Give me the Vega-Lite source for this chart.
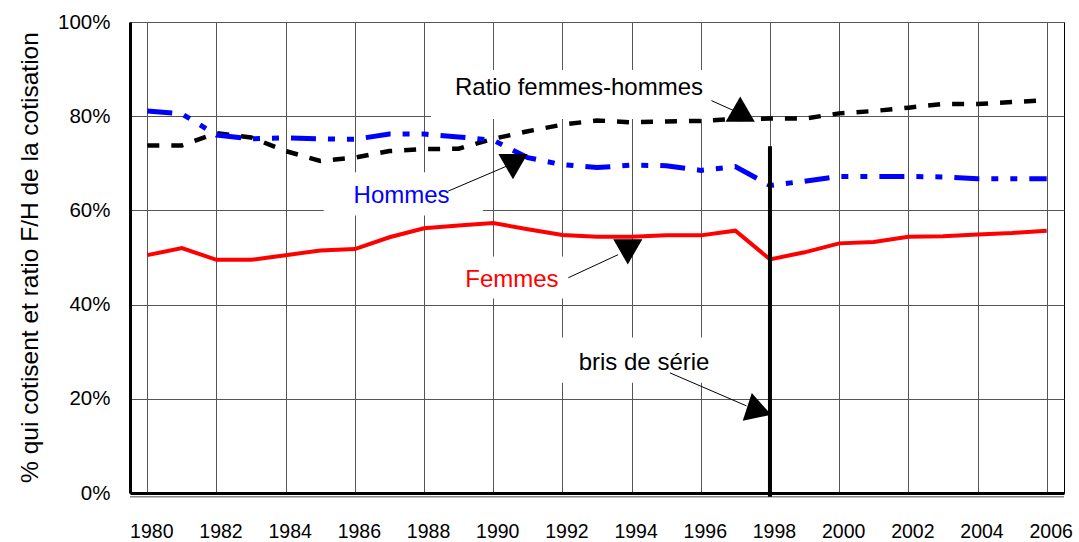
{
  "$schema": "https://vega.github.io/schema/vega-lite/v6.json",
  "width": 934,
  "height": 471,
  "autosize": "none",
  "padding": {"left": 130, "top": 22, "right": 15, "bottom": 49},
  "background": "#ffffff",
  "config": {
    "view": {"stroke": "#000000", "strokeWidth": 1},
    "font": "Liberation Sans, Arial, sans-serif"
  },
  "datasets": {
    "series": [
      {"series": "Femmes", "year": 1980, "value": 50.5},
      {"series": "Femmes", "year": 1981, "value": 52.0},
      {"series": "Femmes", "year": 1982, "value": 49.5},
      {"series": "Femmes", "year": 1983, "value": 49.5},
      {"series": "Femmes", "year": 1984, "value": 50.5},
      {"series": "Femmes", "year": 1985, "value": 51.5},
      {"series": "Femmes", "year": 1986, "value": 51.8},
      {"series": "Femmes", "year": 1987, "value": 54.3},
      {"series": "Femmes", "year": 1988, "value": 56.2},
      {"series": "Femmes", "year": 1989, "value": 56.8},
      {"series": "Femmes", "year": 1990, "value": 57.3},
      {"series": "Femmes", "year": 1991, "value": 56.0},
      {"series": "Femmes", "year": 1992, "value": 54.8},
      {"series": "Femmes", "year": 1993, "value": 54.4},
      {"series": "Femmes", "year": 1994, "value": 54.4},
      {"series": "Femmes", "year": 1995, "value": 54.7},
      {"series": "Femmes", "year": 1996, "value": 54.7},
      {"series": "Femmes", "year": 1997, "value": 55.7},
      {"series": "Femmes", "year": 1998, "value": 49.6},
      {"series": "Femmes", "year": 1999, "value": 51.1},
      {"series": "Femmes", "year": 2000, "value": 53.0},
      {"series": "Femmes", "year": 2001, "value": 53.3},
      {"series": "Femmes", "year": 2002, "value": 54.4},
      {"series": "Femmes", "year": 2003, "value": 54.5},
      {"series": "Femmes", "year": 2004, "value": 54.9},
      {"series": "Femmes", "year": 2005, "value": 55.2},
      {"series": "Femmes", "year": 2006, "value": 55.7},
      {"series": "Hommes", "year": 1980, "value": 81.1},
      {"series": "Hommes", "year": 1981, "value": 80.5},
      {"series": "Hommes", "year": 1982, "value": 76.0},
      {"series": "Hommes", "year": 1983, "value": 75.2},
      {"series": "Hommes", "year": 1984, "value": 75.4},
      {"series": "Hommes", "year": 1985, "value": 75.2},
      {"series": "Hommes", "year": 1986, "value": 75.1},
      {"series": "Hommes", "year": 1987, "value": 76.2},
      {"series": "Hommes", "year": 1988, "value": 76.2},
      {"series": "Hommes", "year": 1989, "value": 75.6},
      {"series": "Hommes", "year": 1990, "value": 74.9},
      {"series": "Hommes", "year": 1991, "value": 71.2},
      {"series": "Hommes", "year": 1992, "value": 69.7},
      {"series": "Hommes", "year": 1993, "value": 69.1},
      {"series": "Hommes", "year": 1994, "value": 69.6},
      {"series": "Hommes", "year": 1995, "value": 69.5},
      {"series": "Hommes", "year": 1996, "value": 68.5},
      {"series": "Hommes", "year": 1997, "value": 69.3},
      {"series": "Hommes", "year": 1998, "value": 65.3},
      {"series": "Hommes", "year": 1999, "value": 66.2},
      {"series": "Hommes", "year": 2000, "value": 67.2},
      {"series": "Hommes", "year": 2001, "value": 67.2},
      {"series": "Hommes", "year": 2002, "value": 67.2},
      {"series": "Hommes", "year": 2003, "value": 67.1},
      {"series": "Hommes", "year": 2004, "value": 66.7},
      {"series": "Hommes", "year": 2005, "value": 66.7},
      {"series": "Hommes", "year": 2006, "value": 66.7},
      {"series": "Ratio", "year": 1980, "value": 73.8},
      {"series": "Ratio", "year": 1981, "value": 73.8},
      {"series": "Ratio", "year": 1982, "value": 76.4},
      {"series": "Ratio", "year": 1983, "value": 75.5},
      {"series": "Ratio", "year": 1984, "value": 72.6},
      {"series": "Ratio", "year": 1985, "value": 70.5},
      {"series": "Ratio", "year": 1986, "value": 71.2},
      {"series": "Ratio", "year": 1987, "value": 72.6},
      {"series": "Ratio", "year": 1988, "value": 73.0},
      {"series": "Ratio", "year": 1989, "value": 73.1},
      {"series": "Ratio", "year": 1990, "value": 75.2},
      {"series": "Ratio", "year": 1991, "value": 76.8},
      {"series": "Ratio", "year": 1992, "value": 78.2},
      {"series": "Ratio", "year": 1993, "value": 79.1},
      {"series": "Ratio", "year": 1994, "value": 78.7},
      {"series": "Ratio", "year": 1995, "value": 78.9},
      {"series": "Ratio", "year": 1996, "value": 79.0},
      {"series": "Ratio", "year": 1997, "value": 79.4},
      {"series": "Ratio", "year": 1998, "value": 79.5},
      {"series": "Ratio", "year": 1999, "value": 79.5},
      {"series": "Ratio", "year": 2000, "value": 80.6},
      {"series": "Ratio", "year": 2001, "value": 81.1},
      {"series": "Ratio", "year": 2002, "value": 81.8},
      {"series": "Ratio", "year": 2003, "value": 82.6},
      {"series": "Ratio", "year": 2004, "value": 82.6},
      {"series": "Ratio", "year": 2005, "value": 83.0},
      {"series": "Ratio", "year": 2006, "value": 83.4}
    ],
    "boxes": [
      {"name": "Ratio", "year": 1988.2, "year2": 1997.27, "value": 79.4, "value2": 89.8},
      {"name": "Hommes", "year": 1985.1, "year2": 1989.7, "value": 58.9, "value2": 68.1},
      {"name": "Femmes", "year": 1988.9, "year2": 1992.36, "value": 41.3, "value2": 50.2},
      {"name": "Bris", "year": 1991.49, "year2": 1996.55, "value": 23.4, "value2": 33.0}
    ],
    "labels": [
      {"name": "Ratio", "text": "Ratio femmes-hommes", "year": 1992.48, "value": 85.9},
      {"name": "Hommes", "text": "Hommes", "year": 1987.35, "value": 63.0},
      {"name": "Femmes", "text": "Femmes", "year": 1990.54, "value": 45.3},
      {"name": "Bris", "text": "bris de série", "year": 1994.36, "value": 27.6}
    ],
    "arrows": [
      {"name": "Ratio", "year": 1996.31, "value": 83.3, "year2": 1996.98, "value2": 81.1},
      {"name": "Hommes", "year": 1988.7, "value": 64.1, "year2": 1990.39, "value2": 69.4},
      {"name": "Femmes", "year": 1992.17, "value": 45.7, "year2": 1993.61, "value2": 50.6},
      {"name": "Bris", "year": 1995.11, "value": 25.5, "year2": 1997.32, "value2": 18.5}
    ],
    "tips": [
      {"name": "Ratio", "year": 1997.14, "value": 81.5},
      {"name": "Hommes", "year": 1990.57, "value": 69.3},
      {"name": "Femmes", "year": 1993.89, "value": 51.2},
      {"name": "Bris", "year": 1997.55, "value": 18.6}
    ],
    "breakline": [
      {"year": 1998, "value": -0.8, "value2": 73.6}
    ],
    "baseline": [
      {"year": 1979.5, "year2": 2006.5, "value": -0.8}
    ]
  },
  "encoding": {
    "x": {
      "field": "year",
      "type": "quantitative",
      "scale": {"domain": [1979.5, 2006.5], "nice": false, "zero": false},
      "axis": {
        "values": [1980, 1982, 1984, 1986, 1988, 1990, 1992, 1994, 1996, 1998, 2000, 2002, 2004, 2006],
        "format": "d",
        "title": null,
        "labelFontSize": 19.5,
        "labelColor": "#000000",
        "labelPadding": 29,
        "labelBaseline": "top",
        "labelOffset": 4,
        "labelFlush": false,
        "labelOverlap": false,
        "ticks": false,
        "domain": true,
        "domainColor": "#000000",
        "domainWidth": 3,
        "grid": true,
        "gridColor": "#555555",
        "gridWidth": 1,
        "gridOpacity": 1
      }
    },
    "y": {
      "field": "value",
      "type": "quantitative",
      "scale": {"domain": [0, 100], "nice": false, "zero": true},
      "axis": {
        "values": [0, 20, 40, 60, 80, 100],
        "labelExpr": "datum.value + '%'",
        "labelFontSize": 20.5,
        "labelColor": "#000000",
        "labelPadding": 20,
        "labelBaseline": "middle",
        "labelFlush": false,
        "labelOverlap": false,
        "ticks": false,
        "domain": true,
        "domainColor": "#000000",
        "domainWidth": 3,
        "grid": true,
        "gridColor": "#555555",
        "gridWidth": 1,
        "gridOpacity": 1,
        "title": "% qui cotisent et ratio F/H de la cotisation",
        "titleFontSize": 24.5,
        "titleFontWeight": "normal",
        "titleColor": "#000000",
        "titleX": -100,
        "titleY": 235,
        "titleAngle": -90,
        "titleAlign": "center",
        "titleBaseline": "middle"
      }
    }
  },
  "layer": [
    {
      "data": {"name": "boxes"},
      "mark": {"type": "rect", "fill": "#ffffff", "stroke": null},
      "encoding": {"x2": {"field": "year2"}, "y2": {"field": "value2"}}
    },
    {
      "data": {"name": "baseline"},
      "mark": {"type": "rule", "color": "#888888", "strokeWidth": 1.5},
      "encoding": {"x2": {"field": "year2"}}
    },
    {
      "data": {"name": "series"},
      "transform": [{"filter": "datum.series === 'Ratio'"}],
      "mark": {"type": "line", "color": "#000000", "strokeWidth": 4.5, "strokeDash": [12, 12]},
      "encoding": {}
    },
    {
      "data": {"name": "series"},
      "transform": [{"filter": "datum.series === 'Hommes'"}],
      "mark": {"type": "line", "color": "#0000ff", "strokeWidth": 5, "strokeDash": [25, 12, 7, 12, 7, 12]},
      "encoding": {}
    },
    {
      "data": {"name": "series"},
      "transform": [{"filter": "datum.series === 'Femmes'"}],
      "mark": {"type": "line", "color": "#ff0000", "strokeWidth": 4},
      "encoding": {}
    },
    {
      "data": {"name": "breakline"},
      "mark": {"type": "rule", "color": "#000000", "strokeWidth": 4},
      "encoding": {"y2": {"field": "value2"}}
    },
    {
      "data": {"name": "arrows"},
      "mark": {"type": "rule", "color": "#000000", "strokeWidth": 1},
      "encoding": {"x2": {"field": "year2"}, "y2": {"field": "value2"}}
    },
    {
      "data": {"name": "tips"},
      "transform": [{"filter": "datum.name === 'Ratio'"}],
      "mark": {"type": "point", "shape": "triangle-up", "filled": true, "color": "#000000", "size": 850, "opacity": 1}
    },
    {
      "data": {"name": "tips"},
      "transform": [{"filter": "datum.name === 'Bris'"}],
      "mark": {"type": "point", "shape": "triangle-up", "filled": true, "color": "#000000", "size": 850, "opacity": 1, "angle": -12}
    },
    {
      "data": {"name": "tips"},
      "transform": [{"filter": "datum.name === 'Hommes' || datum.name === 'Femmes'"}],
      "mark": {"type": "point", "shape": "triangle-down", "filled": true, "color": "#000000", "size": 850, "opacity": 1}
    },
    {
      "data": {"name": "labels"},
      "mark": {"type": "text", "fontSize": 24, "align": "center", "baseline": "middle"},
      "encoding": {
        "text": {"field": "text"},
        "color": {
          "field": "name",
          "type": "nominal",
          "scale": {"domain": ["Ratio", "Hommes", "Femmes", "Bris"], "range": ["#000000", "#0000ff", "#ff0000", "#000000"]},
          "legend": null
        }
      }
    }
  ]
}
